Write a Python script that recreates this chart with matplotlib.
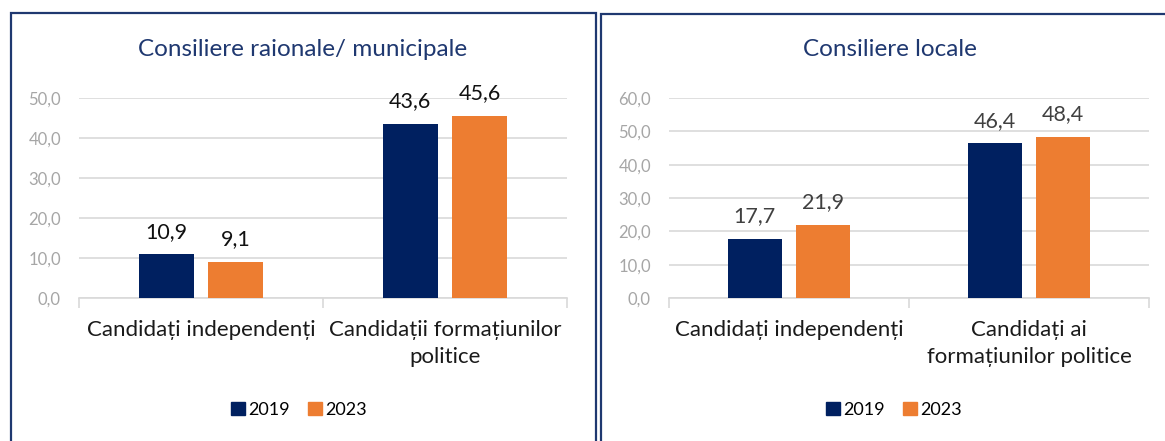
import matplotlib.pyplot as plt
from matplotlib.patches import Rectangle, Patch

plt.rcParams['font.family'] = ['Lato', 'DejaVu Sans']

years = ["2019", "2023"]
colors = ["#002060", "#ED7D31"]

left_title = "Consiliere raionale/ municipale"
left_cats = ["Candidați independenți", "Candidații formațiunilor\npolitice"]
left_2019 = [10.9, 43.6]
left_2023 = [9.1, 45.6]
left_ticks = [0, 10, 20, 30, 40, 50]

right_title = "Consiliere locale"
right_cats = ["Candidați independenți", "Candidați ai\nformațiunilor politice"]
right_2019 = [17.7, 46.4]
right_2023 = [21.9, 48.4]
right_ticks = [0, 10, 20, 30, 40, 50, 60]

W, H = 1165, 441
fig = plt.figure(figsize=(W/100, H/100), dpi=100)


def fx(px):
    return px/W


def fy(py):
    return 1-py/H


def panel(rect, cats, v19, v23, ticks, title, title_x, leg_x, label_color):
    ax = fig.add_axes(rect)
    x = list(range(len(cats)))
    bw = 0.225
    off = 0.142
    b1 = ax.bar([i-off for i in x], v19, bw, color=colors[0], zorder=3)
    b2 = ax.bar([i+off for i in x], v23, bw, color=colors[1], zorder=3)
    for b in (b1, b2):
        ax.bar_label(b, labels=[f"{v:.1f}".replace(".", ",") for v in b.datavalues],
                     padding=9, fontsize=15.5, color=label_color)
    ax.set_xlim(-0.5, len(cats)-0.5)
    ax.set_ylim(ticks[0], ticks[-1])
    ax.set_yticks(ticks)
    ax.set_yticklabels([f"{t:.1f}".replace(".", ",") for t in ticks],
                       color="#A6A6A6", fontsize=12)
    ax.tick_params(axis='y', length=0, pad=13)
    ax.grid(axis='y', color="#D9D9D9", lw=1.2, zorder=0)
    ax.set_xticks([-0.5, 0.5, 1.5], minor=True)
    ax.tick_params(axis='x', which='minor', length=7, color="#D9D9D9", width=1.2)
    ax.set_xticks(x)
    ax.set_xticklabels(cats, fontsize=16, color="#1a1a1a", linespacing=1.45)
    ax.tick_params(axis='x', which='major', length=0, pad=16)
    for s in ("top", "right", "left"):
        ax.spines[s].set_visible(False)
    ax.spines["bottom"].set_color("#D9D9D9")
    ax.spines["bottom"].set_linewidth(1.2)
    ax.set_axisbelow(True)
    fig.text(title_x, fy(50), title, ha='center', va='center',
             fontsize=17.5, color="#1F3870")
    handles = [Patch(color=c, label=y) for c, y in zip(colors, years)]
    fig.legend(handles=handles, loc='center', bbox_to_anchor=(leg_x, fy(410)),
               ncol=2, frameon=False, fontsize=13, handlelength=0.75,
               handleheight=0.75, handletextpad=0.2, columnspacing=1.0)
    return ax


panel([fx(79), fy(298), fx(488), 200/H], left_cats, left_2019, left_2023,
      left_ticks, left_title, fx(303), fx(299), "#111111")
panel([fx(669), fy(298), fx(480), 200/H], right_cats, right_2019, right_2023,
      right_ticks, right_title, fx(890), fx(894), "#404040")

# panel borders
for x0, x1, y0 in ((11, 596, 12.5), (600.5, 1175, 13.5)):
    fig.add_artist(Rectangle((fx(x0), -0.05), fx(x1-x0), fy(y0)+0.05,
                             transform=fig.transFigure, fill=False,
                             edgecolor="#1F3870", lw=1.6))

fig.savefig("out.png", dpi=100)
